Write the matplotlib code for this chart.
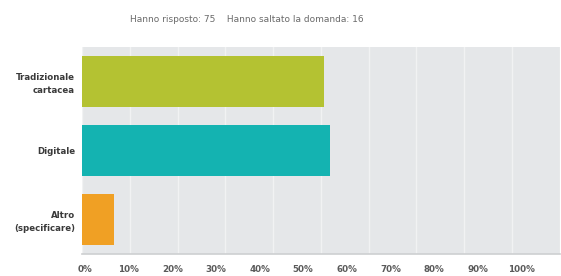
import matplotlib
matplotlib.use("Agg")
import matplotlib.pyplot as plt

categories = ["Tradizionale\ncartacea", "Digitale", "Altro\n(specificare)"]
values = [50.67, 52.0, 6.67]
colors = ["#b4c232", "#14b3b1", "#f0a024"]
tick_values = [0, 10, 20, 30, 40, 50, 60, 70, 80, 90, 100]
tick_labels = ["0%", "10%", "20%", "30%", "40%", "50%", "60%", "70%", "80%", "90%", "100%"]
subtitle = "Hanno risposto: 75    Hanno saltato la domanda: 16"

plt.rcParams['font.family'] = ['DejaVu Sans']

fig = plt.figure(figsize=(5.61, 2.76), dpi=100)
fig.patch.set_facecolor("white")
ax = fig.add_axes([0.146, 0.080, 0.852, 0.750])
ax.set_facecolor("#e5e7e9")

ypos = list(range(len(categories)))
ax.barh(ypos, values, height=0.73, color=colors, zorder=3)
ax.set_xlim(0, 100)
ax.set_ylim(len(categories) - 0.5, -0.5)
ax.set_xticks(tick_values)
ax.xaxis.grid(True, color="#f1f2f3", linewidth=1.0, zorder=1)
ax.set_yticks(ypos)
ax.set_yticklabels(categories, fontsize=6.2, fontweight="bold", color="#3a3a3a",
                   linespacing=1.5)
ax.tick_params(axis="y", length=0, pad=5)
for s in ["top", "right", "left"]:
    ax.spines[s].set_visible(False)
ax.spines["bottom"].set_color("#cdcfd1")
ax.spines["bottom"].set_linewidth(1.2)

ax2 = ax.twiny()
ax2.set_xlim(-0.69, 108.8)
ax2.xaxis.set_ticks_position("bottom")
ax2.xaxis.set_label_position("bottom")
ax2.set_xticks(tick_values)
ax2.set_xticklabels(tick_labels, fontsize=6.3, fontweight="bold", color="#5a5a5a")
ax2.tick_params(axis="x", length=0, pad=8)
for s in ["top", "right", "left", "bottom"]:
    ax2.spines[s].set_visible(False)
ax.tick_params(axis="x", bottom=False, top=False, labelbottom=False, labeltop=False)

fig.text(0.44, 0.93, subtitle, fontsize=6.5, color="#6a6a6a", ha="center", va="center")

fig.savefig("out.png", dpi=100, facecolor="white")
